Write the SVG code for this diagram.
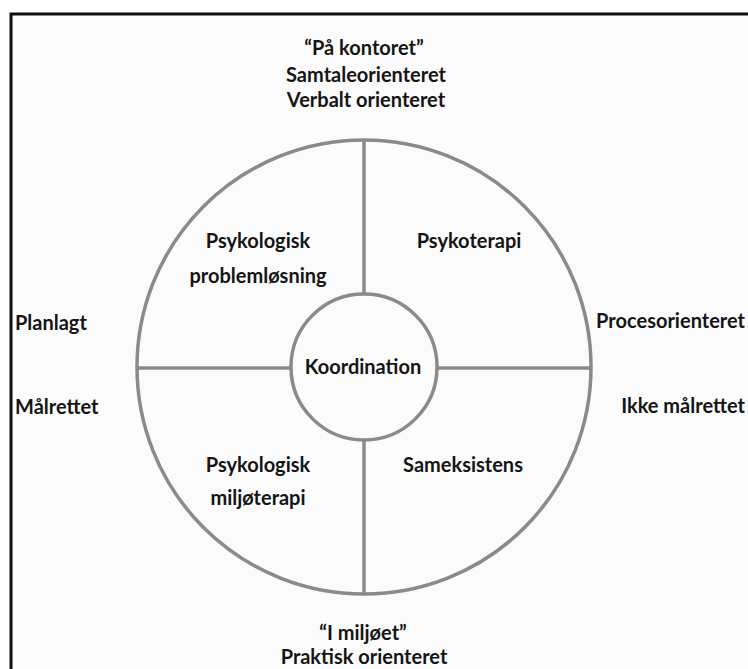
<svg xmlns="http://www.w3.org/2000/svg" width="748" height="669" viewBox="0 0 748 669">
<style>
.t{font-family:"Lato","Open Sans","Liberation Sans",sans-serif;font-weight:bold;font-size:20px;fill:#151515}
.c{text-anchor:middle}
.ln{stroke:#8a8a8a;stroke-width:3.5;fill:none}
</style>
<rect x="0" y="0" width="748" height="669" fill="#ffffff"/>
<rect x="11" y="14" width="760" height="680" fill="#fbfbfb" stroke="#111" stroke-width="3"/>
<g id="connectors">
<circle class="ln" cx="364" cy="367" r="227"/>
<line class="ln" x1="364" y1="140" x2="364" y2="295"/>
<line class="ln" x1="364" y1="440" x2="364" y2="594"/>
<line class="ln" x1="137" y1="368" x2="292" y2="368"/>
<line class="ln" x1="437" y1="368" x2="591" y2="368"/>
</g>
<g id="koordination">
<circle class="ln" cx="364" cy="367" r="73"/>
<text class="t c" x="363" y="374">Koordination</text>
</g>
<g id="top"><text class="t c" x="364" y="55">“På kontoret”</text><text class="t c" x="366" y="82">Samtaleorienteret</text><text class="t c" x="366" y="107">Verbalt orienteret</text></g>
<g id="bottom"><text class="t c" x="363" y="640">“I miljøet”</text><text class="t c" x="364" y="664">Praktisk orienteret</text></g>
<g id="left"><text class="t" x="15" y="330">Planlagt</text><text class="t" x="15" y="414">Målrettet</text></g>
<g id="right"><text class="t" x="745" y="328" text-anchor="end">Procesorienteret</text><text class="t" x="745" y="413" text-anchor="end">Ikke målrettet</text></g>
<g id="q1"><text class="t c" x="258" y="248">Psykologisk</text><text class="t c" x="258" y="283">problemløsning</text></g>
<g id="q2"><text class="t c" x="469" y="248">Psykoterapi</text></g>
<g id="q3"><text class="t c" x="258" y="472">Psykologisk</text><text class="t c" x="258" y="505">miljøterapi</text></g>
<g id="q4"><text class="t c" x="463" y="472">Sameksistens</text></g>
</svg>
